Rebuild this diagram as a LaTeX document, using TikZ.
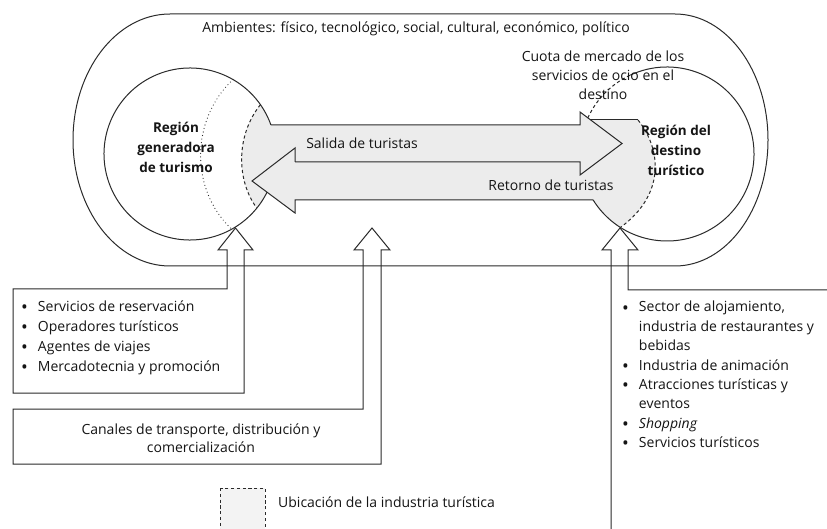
\documentclass[tikz,border=0pt]{standalone}
\usepackage{fontspec}
\setmainfont{Open Sans}
\definecolor{ln}{HTML}{2A2A2A}
\definecolor{shadecol}{HTML}{ECECEC}
\definecolor{tx}{HTML}{151515}
\definecolor{legfill}{HTML}{F3F3F3}
\newcommand{\bul}{\raisebox{-2.2pt}{\fontsize{18}{20}\selectfont\textbullet}}
\begin{document}
\begin{tikzpicture}[x=1pt,y=-1pt,
  ln/.style={draw=ln, line width=1pt, line join=miter},
  dsh/.style={ln, dash pattern=on 3.2pt off 2.6pt},
  dtt/.style={ln, line width=1.2pt, line cap=round, dash pattern=on 0pt off 3.6pt},
  lbl/.style={text=tx, font=\fontsize{14}{19}\selectfont, inner sep=0pt, align=center},
  boldlbl/.style={text=tx, font=\fontsize{13.5}{20}\selectfont\bfseries, inner sep=0pt, align=center},
  listlbl/.style={text=tx, font=\fontsize{14}{20}\selectfont, inner sep=0pt, anchor=west},
]
\useasboundingbox (0,0) rectangle (827,529);
\clip (0,0) rectangle (827,529);
\fill[white] (0,0) rectangle (827,529);

% shaded location of the tourism industry
\fill[shadecol] ([shift={(190,154)}]-35:86) arc[start angle=-35, end angle=-19.7, radius=86]
  -- (580,125) -- (580,112) -- (590.2,120) -- (638,120)
  .. controls (662,150) and (665,195) .. ([shift={(667,154)}]122.4:87)
  arc[start angle=122.4, end angle=148.1, radius=87]
  -- (295,200) -- (295,213) -- ([shift={(190,154)}]26.4:86)
  arc[start angle=26.4, end angle=39, radius=86]
  .. controls (236,180) and (236,135) .. ([shift={(190,154)}]-35:86) -- cycle;

% legend square
\fill[legfill] (220,488) rectangle (265,540);
\draw[dsh] (220,488) rectangle (265,540);
\node[lbl, anchor=west] (leg) at (278,502) {Ubicación de la industria turística};

% outer environment
\draw[ln] (675,14) -- (170,14)
  arc[start angle=-90, end angle=-270, x radius=97, y radius=126]
  -- (675,266)
  arc[start angle=90, end angle=-90, x radius=93, y radius=126];

% generating region circle
\draw[ln] ([shift={(190,154)}]-19.7:86) arc[start angle=-19.7, end angle=-333.6, radius=86];
\draw[dtt] ([shift={(190,154)}]-60:86) .. controls (190,120) and (190,190) .. ([shift={(190,154)}]61:86);
\draw[dsh] ([shift={(190,154)}]-35:86) .. controls (236,135) and (236,180) .. ([shift={(190,154)}]39:86);

% destination region circle
\draw[dsh] ([shift={(667,154)}]-155.6:87) arc[start angle=-155.6, end angle=-115, radius=87];
\draw[ln] ([shift={(667,154)}]-115:87) arc[start angle=-115, end angle=148.1, radius=87];
\draw[ln] (590.2,120) -- (638,120);
\draw[dsh] (638,120) .. controls (662,150) and (665,195) .. ([shift={(667,154)}]122.4:87);

% departing / returning arrows
\draw[ln] (271,125) -- (580,125) -- (580,112) -- (622,143.5) -- (580,175) -- (580,162) -- (295,162);
\draw[ln] ([shift={(667,154)}]148.1:87) -- (295,200) -- (295,213) -- (252,181) -- (295,148) -- (295,162);

% up arrows with boxes
\draw[ln] (227,289) -- (227,250) -- (218,250) -- (235.5,228) -- (253,250) -- (244,250)
  -- (244,393) -- (13,393) -- (13,289) -- cycle;
\draw[ln] (363,409) -- (363,250) -- (354,250) -- (372,228) -- (390,250) -- (381,250)
  -- (381,464) -- (13,464) -- (13,409) -- cycle;
\draw[ln] (611,545) -- (611,250) -- (602,250) -- (620,228) -- (638,250) -- (628,250)
  -- (628,290) -- (845,290);

% texts
\node[lbl] (amb) at (416,29) {Ambientes: físico, tecnológico, social, cultural, económico, político};
\node[lbl] (cuota) at (603,75) {Cuota de mercado de los\\servicios de ocio en el\\destino};
\node[boldlbl] (gen) at (176,147) {Región\\generadora\\de turismo};
\node[boldlbl] (dest) at (676,150) {Región del\\destino\\turístico};
\node[lbl] (salida) at (362,143) {Salida de turistas};
\node[lbl] (retorno) at (551,185) {Retorno de turistas};

\node[listlbl] (list1) at (21,337) {\begin{tabular}{@{}l@{\hspace{10pt}}l@{}}
\bul & Servicios de reservación\\
\bul & Operadores turísticos\\
\bul & Agentes de viajes\\
\bul & Mercadotecnia y promoción
\end{tabular}};
\node[lbl, font=\fontsize{14}{18}\selectfont] (canales) at (201,438) {Canales de transporte, distribución y\\comercialización};
\node[listlbl, font=\fontsize{14}{19.4}\selectfont] (list3) at (622,376) {\begin{tabular}{@{}l@{\hspace{10pt}}l@{}}
\bul & Sector de alojamiento,\\
 & industria de restaurantes y\\
 & bebidas\\
\bul & Industria de animación\\
\bul & Atracciones turísticas y\\
 & eventos\\
\bul & \textit{Shopping}\\
\bul & Servicios turísticos
\end{tabular}};
\end{tikzpicture}
\end{document}
